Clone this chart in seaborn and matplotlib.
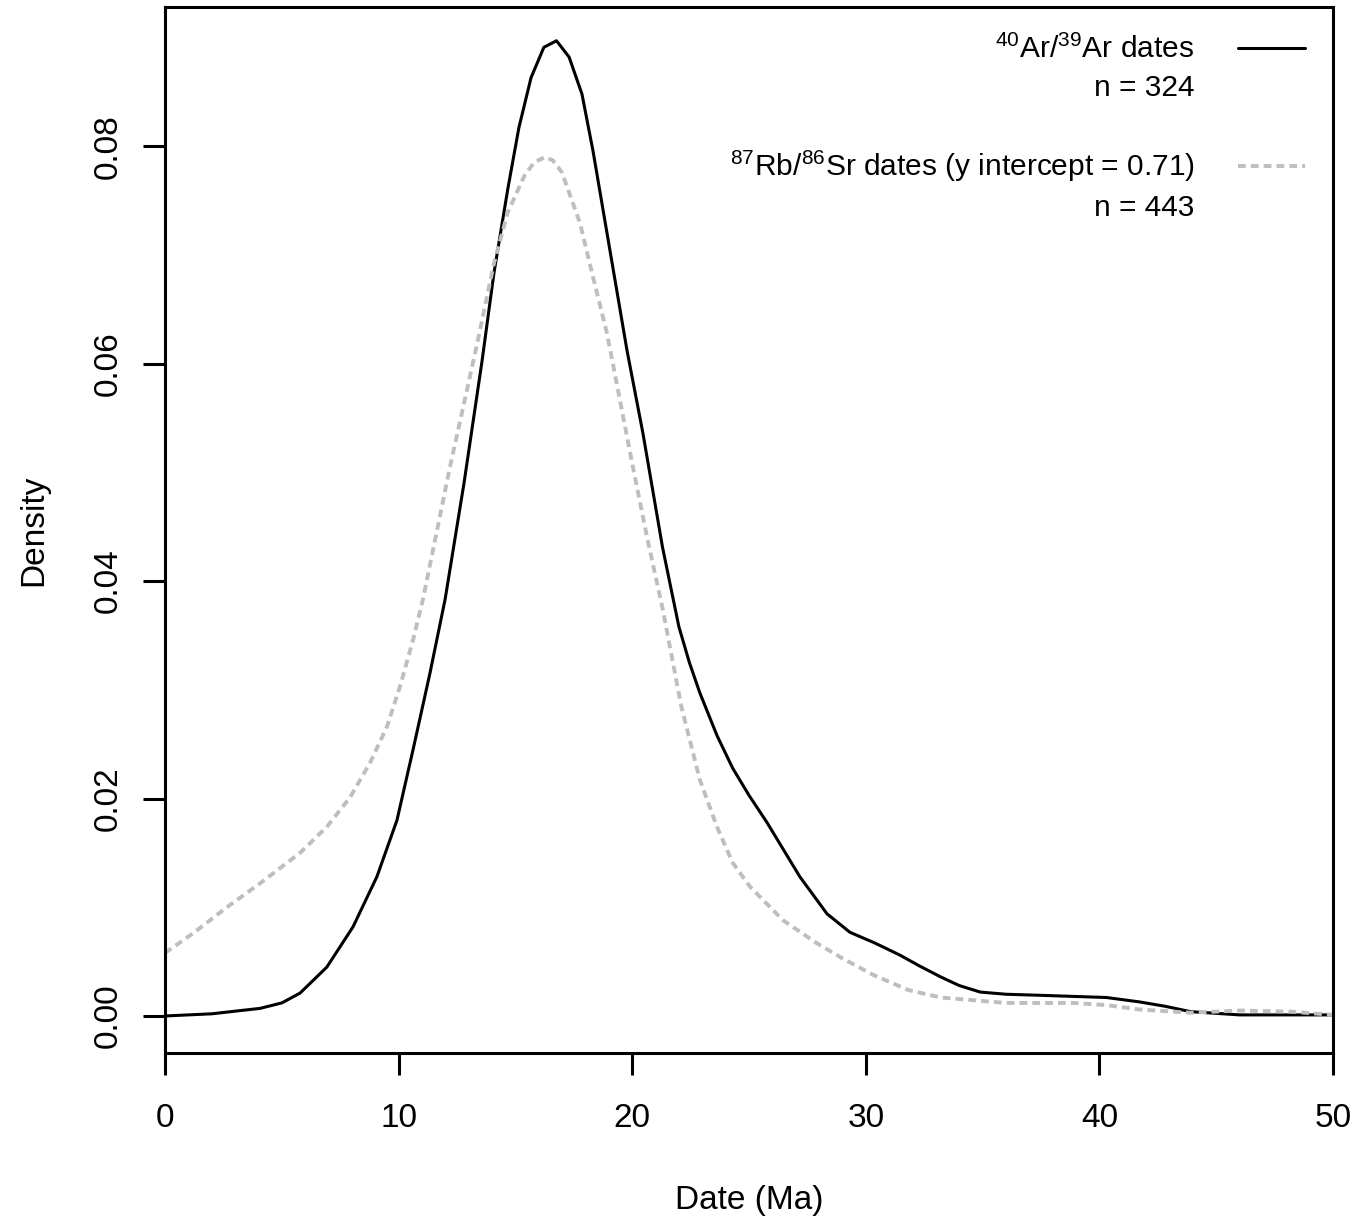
import numpy as np
import pandas as pd
import matplotlib
matplotlib.use('Agg')
import matplotlib.pyplot as plt
import seaborn as sns
from matplotlib.lines import Line2D

# --- data (density curves) ---
ar_date = [0, 2, 4.07, 5.0, 5.78, 6.93, 8.05, 9.07, 9.93, 10.62, 11.34, 11.99, 12.8, 13.57,
           14.08, 14.67, 15.15, 15.67, 16.22, 16.76, 17.3, 17.85, 18.32, 19.05, 19.78, 20.46,
           21.3, 22.0, 22.45, 22.9, 23.63, 24.3, 25.0, 25.77, 27.18, 28.34, 29.32, 30.4,
           31.46, 32.3, 33.2, 34.0, 34.9, 36.0, 37.5, 40.3, 41.7, 42.8, 43.9, 46.0, 50.0]
ar_density = [0.0, 0.0002, 0.0007, 0.0012, 0.0021, 0.0045, 0.0082, 0.0128, 0.0180, 0.0245,
              0.0315, 0.0383, 0.049, 0.0602, 0.0683, 0.0760, 0.0817, 0.0863, 0.0891, 0.0897,
              0.0882, 0.0848, 0.0796, 0.0704, 0.0612, 0.0536, 0.0431, 0.0358, 0.0325, 0.0297,
              0.0258, 0.0228, 0.0203, 0.0178, 0.0128, 0.0094, 0.0077, 0.0067, 0.0056, 0.0046,
              0.0036, 0.0028, 0.0022, 0.0020, 0.0019, 0.0017, 0.0013, 0.0009, 0.0004, 0.0001,
              0.0001]

sr_date = [0, 1.2, 2.65, 4.07, 5.78, 6.93, 7.92, 8.78, 9.5, 10.06, 10.62, 11.04, 12.2, 13.36,
           14.08, 14.67, 15.39, 15.8, 16.27, 16.6, 16.99, 17.77, 18.32, 18.92, 19.48, 20.03,
           20.63, 21.3, 22.1, 22.9, 23.63, 24.3, 25.04, 26.46, 27.9, 29.0, 30.3, 31.8, 33.2,
           36.0, 38.9, 40.3, 41.7, 43.9, 46.0, 48.2, 50.0]
sr_density = [0.0058, 0.0076, 0.0100, 0.0122, 0.0150, 0.0174, 0.0201, 0.0233, 0.0266, 0.0303,
              0.0346, 0.0383, 0.0505, 0.0618, 0.0692, 0.0739, 0.0773, 0.0785, 0.0790, 0.0787,
              0.0776, 0.0729, 0.0680, 0.0628, 0.0566, 0.0505, 0.0441, 0.0375, 0.0285, 0.0217,
              0.0174, 0.0141, 0.0119, 0.0088, 0.0067, 0.0053, 0.0038, 0.0024, 0.0017, 0.0012,
              0.0012, 0.0010, 0.0006, 0.0003, 0.0005, 0.0004, 0.0001]

ar_labels = ["$^{40}$Ar/$^{39}$Ar dates", "n = 324"]
sr_labels = ["$^{87}$Rb/$^{86}$Sr dates (y intercept = 0.71)", "n = 443"]
x_ticks = [0, 10, 20, 30, 40, 50]
y_ticks = [0.00, 0.02, 0.04, 0.06, 0.08]

ar_df = pd.DataFrame({'date': ar_date, 'density': ar_density})
sr_df = pd.DataFrame({'date': sr_date, 'density': sr_density})

# --- style ---
sns.set_style('white')
plt.rcParams['font.family'] = ['Liberation Sans', 'DejaVu Sans']
plt.rcParams['mathtext.fontset'] = 'custom'
plt.rcParams['mathtext.rm'] = 'Liberation Sans'
plt.rcParams['mathtext.it'] = 'Liberation Sans:italic'
plt.rcParams['mathtext.bf'] = 'Liberation Sans:bold'
plt.rcParams['text.color'] = 'black'
plt.rcParams['axes.labelcolor'] = 'black'
fs = 24
fs_leg = 21.5

fig, ax = plt.subplots(figsize=(13.68, 12.17), dpi=100)
fig.subplots_adjust(left=0.1206, right=0.9744, bottom=0.1348, top=0.9942)

sns.lineplot(data=ar_df, x='date', y='density', color='black', linewidth=2.2,
             sort=False, estimator=None, ax=ax)
sns.lineplot(data=sr_df, x='date', y='density', color='#bebebe', linewidth=2.8,
             sort=False, estimator=None, ax=ax)
ax.get_lines()[1].set_dashes((2.0, 1.3))

ax.set_xlim(0, 50)
ax.set_ylim(-0.0034, 0.0928)
ax.set_xticks(x_ticks)
ax.set_xticklabels([str(t) for t in x_ticks])
ax.set_yticks(y_ticks)
ax.set_yticklabels([f"{t:.2f}" for t in y_ticks], rotation=90, va='center')

for s in ax.spines.values():
    s.set_visible(True)
    s.set_color('black')
    s.set_linewidth(2.2)

ax.tick_params(axis='both', direction='out', length=16, width=2.2, colors='black',
               labelcolor='black', labelsize=fs, left=True, bottom=True)
ax.tick_params(axis='x', pad=20)
ax.tick_params(axis='y', pad=14)

ax.set_xlabel('Date (Ma)', fontsize=fs, labelpad=37)
ax.set_ylabel('Density', fontsize=fs, labelpad=31)

# legend, text on the left, line on the right
handles = [ax.get_lines()[0], Line2D([], [], color='none'), Line2D([], [], color='none'),
           ax.get_lines()[1], Line2D([], [], color='none')]
labels = [ar_labels[0], ar_labels[1], " ", sr_labels[0], sr_labels[1]]
leg = ax.legend(handles, labels, loc='upper right', bbox_to_anchor=(0.976, 0.973),
                markerfirst=False, frameon=False, fontsize=fs_leg, handlelength=2.25,
                handletextpad=1.45, labelspacing=0.32, borderpad=0, borderaxespad=0)

plt.savefig('out.png', dpi=100)
